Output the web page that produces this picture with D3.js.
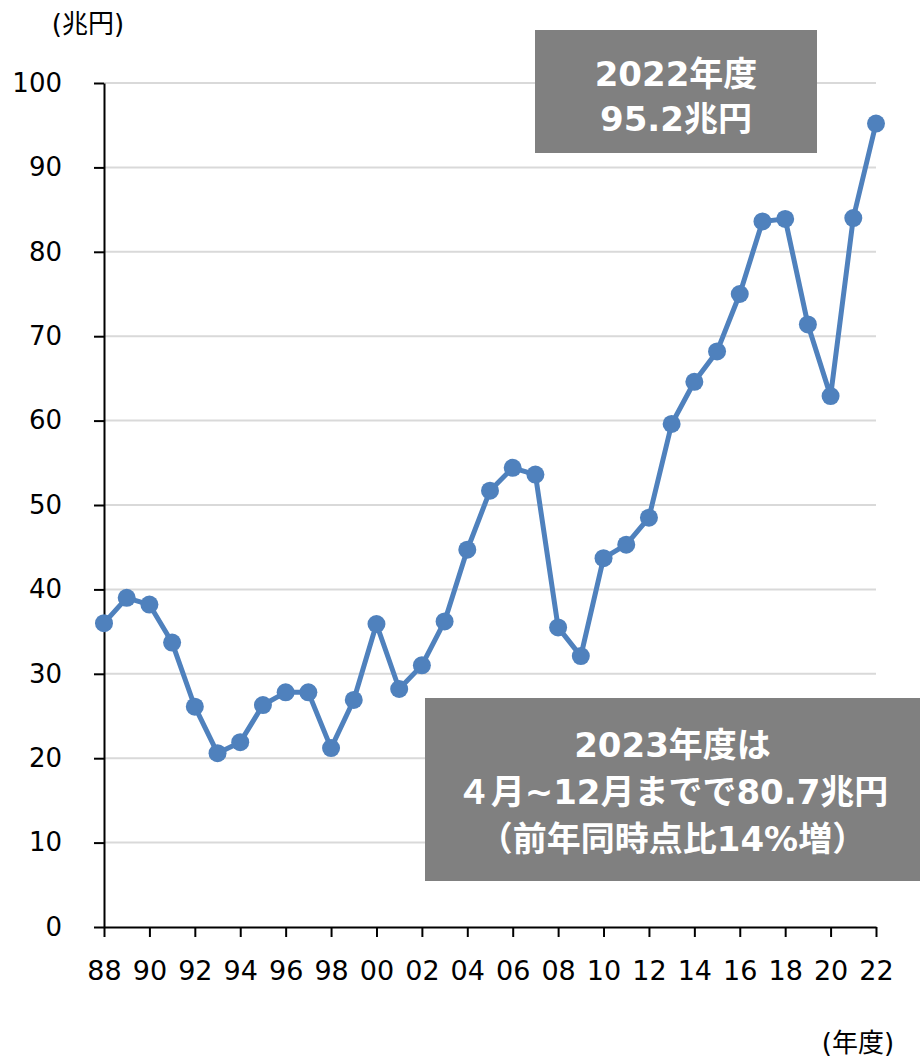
<!DOCTYPE html>
<html>
<head>
<meta charset="utf-8">
<script src="https://cdn.jsdelivr.net/npm/d3@7"></script>
<style>
  body { margin: 0; background: #fff; }
  text { font-family: "DejaVu Sans", "Noto Sans CJK JP", sans-serif; }
</style>
</head>
<body>
<div id="chart"></div>
<script>
// Fiscal years (2-digit) and values in 兆円
const years = ["88","89","90","91","92","93","94","95","96","97","98","99","00","01","02","03","04","05","06","07","08","09","10","11","12","13","14","15","16","17","18","19","20","21","22"];
const values = [36.0, 39.0, 38.2, 33.7, 26.1, 20.6, 21.9, 26.3, 27.8, 27.8, 21.2, 26.9, 35.9, 28.2, 31.0, 36.2, 44.7, 51.7, 54.4, 53.6, 35.5, 32.1, 43.7, 45.3, 48.5, 59.6, 64.6, 68.2, 75.0, 83.6, 83.9, 71.4, 62.9, 84.0, 95.2];
const yTicks = [0, 10, 20, 30, 40, 50, 60, 70, 80, 90, 100];
const xLabels = ["88","90","92","94","96","98","00","02","04","06","08","10","12","14","16","18","20","22"];
const note1 = ["2022年度", "95.2兆円"];
const note2 = ["2023年度は", "４月~12月までで80.7兆円", "（前年同時点比14%増）"];

const width = 924, height = 1057;
const plotLeft = 104, plotRight = 876, plotTop = 83, plotBottom = 927;

const svg = d3.select('#chart').append('svg')
  .attr('width', width)
  .attr('height', height);

const x = d3.scalePoint()
  .domain(years)
  .range([plotLeft, plotRight]);

const y = d3.scaleLinear()
  .domain([0, 100])
  .range([plotBottom, plotTop]);

// Gridlines
svg.append('g')
  .selectAll('line')
  .data(yTicks.filter(d => d > 0))
  .join('line')
  .attr('x1', plotLeft).attr('x2', plotRight)
  .attr('y1', d => y(d)).attr('y2', d => y(d))
  .attr('stroke', '#d9d9d9')
  .attr('stroke-width', 2);

// Y axis
const yAxis = svg.append('g')
  .attr('transform', `translate(${plotLeft},0)`)
  .call(d3.axisLeft(y).tickValues(yTicks).tickSize(10).tickPadding(32).tickSizeOuter(0));
yAxis.select('.domain').attr('stroke', '#000').attr('stroke-width', 2);
yAxis.selectAll('.tick line').attr('stroke', '#000').attr('stroke-width', 2);
yAxis.selectAll('.tick text')
  .attr('font-family', '"DejaVu Sans", sans-serif')
  .attr('font-size', 26)
  .attr('fill', '#000');

// X axis
const xAxis = svg.append('g')
  .attr('transform', `translate(0,${plotBottom})`)
  .call(d3.axisBottom(x).tickValues(xLabels).tickSize(10).tickPadding(24).tickSizeOuter(0));
xAxis.select('.domain').attr('stroke', '#000').attr('stroke-width', 2);
xAxis.selectAll('.tick line').attr('stroke', '#000').attr('stroke-width', 2);
xAxis.selectAll('.tick text')
  .attr('font-family', '"Liberation Sans Narrow", "DejaVu Sans Condensed", sans-serif')
  .attr('font-size', 27)
  .attr('fill', '#000');

// Axis titles
svg.append('text')
  .attr('x', 88).attr('y', 33)
  .attr('text-anchor', 'middle')
  .attr('font-size', 26)
  .text('(兆円)');

svg.append('text')
  .attr('x', 858).attr('y', 1052)
  .attr('text-anchor', 'middle')
  .attr('font-size', 26)
  .text('(年度)');

// Line and markers
const line = d3.line()
  .x((d, i) => x(years[i]))
  .y(d => y(d));

svg.append('path')
  .datum(values)
  .attr('d', line)
  .attr('fill', 'none')
  .attr('stroke', '#4f81bd')
  .attr('stroke-width', 5)
  .attr('stroke-linejoin', 'round');

svg.append('g')
  .selectAll('circle')
  .data(values)
  .join('circle')
  .attr('cx', (d, i) => x(years[i]))
  .attr('cy', d => y(d))
  .attr('r', 9)
  .attr('fill', '#4f81bd');

// Annotation boxes
function noteBox(x0, y0, w, h, lines, firstBase, lineGap) {
  const g = svg.append('g');
  g.append('rect')
    .attr('x', x0).attr('y', y0)
    .attr('width', w).attr('height', h)
    .attr('fill', '#808080');
  g.selectAll('text')
    .data(lines)
    .join('text')
    .attr('x', x0 + w / 2)
    .attr('y', (d, i) => firstBase + i * lineGap)
    .attr('text-anchor', 'middle')
    .attr('fill', '#fff')
    .attr('font-weight', 'bold')
    .attr('font-size', 34)
    .text(d => d);
}

noteBox(535, 30, 282, 123, note1, 86, 45);
noteBox(425, 698, 495, 183, note2, 757, 47);
</script>
</body>
</html>
